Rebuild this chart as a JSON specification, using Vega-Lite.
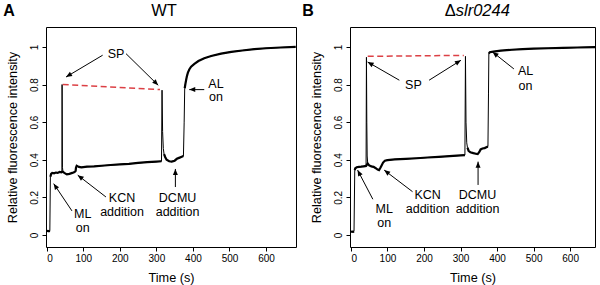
{
  "$schema": "https://vega.github.io/schema/vega-lite/v6.json",
  "background": "white",
  "padding": {"left": 2, "top": 2, "right": 2, "bottom": 2},
  "bounds": "flush",
  "spacing": 54,
  "config": {
    "font": "Liberation Sans",
    "view": {"stroke": "black", "strokeWidth": 1},
    "axis": {
      "grid": false, "domain": false, "tickColor": "black", "tickSize": 4, "tickWidth": 1,
      "labelColor": "black", "labelFontSize": 10, "labelFont": "Liberation Sans",
      "titleColor": "black", "titleFontSize": 12.7, "titleFontWeight": "normal", "titleFont": "Liberation Sans"
    }
  },
  "datasets": {
    "traceA": [
      {"t": 0, "v": 0.02, "seg": 1}, {"t": 3, "v": 0.022, "seg": 1}, {"t": 6, "v": 0.02, "seg": 1}, {"t": 8.5, "v": 0.022, "seg": 1},
      {"t": 10, "v": 0.31, "seg": 2}, {"t": 12, "v": 0.325, "seg": 2}, {"t": 15, "v": 0.33, "seg": 2}, {"t": 20, "v": 0.328, "seg": 2}, {"t": 25, "v": 0.332, "seg": 2}, {"t": 30, "v": 0.33, "seg": 2}, {"t": 35, "v": 0.335, "seg": 2}, {"t": 40, "v": 0.333, "seg": 2}, {"t": 41.5, "v": 0.335, "seg": 2},
      {"t": 42, "v": 0.8, "seg": 0}, {"t": 43, "v": 0.36, "seg": 0},
      {"t": 44.5, "v": 0.335, "seg": 2}, {"t": 48, "v": 0.33, "seg": 2}, {"t": 55, "v": 0.322, "seg": 2}, {"t": 62, "v": 0.325, "seg": 2}, {"t": 70, "v": 0.33, "seg": 2}, {"t": 76, "v": 0.335, "seg": 2}, {"t": 79, "v": 0.34, "seg": 2},
      {"t": 80, "v": 0.358, "seg": 2}, {"t": 82, "v": 0.368, "seg": 2}, {"t": 84, "v": 0.366, "seg": 2}, {"t": 88, "v": 0.362, "seg": 2}, {"t": 95, "v": 0.36, "seg": 2}, {"t": 110, "v": 0.363, "seg": 2}, {"t": 130, "v": 0.365, "seg": 2}, {"t": 150, "v": 0.368, "seg": 2}, {"t": 175, "v": 0.372, "seg": 2}, {"t": 200, "v": 0.375, "seg": 2}, {"t": 225, "v": 0.378, "seg": 2}, {"t": 250, "v": 0.383, "seg": 2}, {"t": 275, "v": 0.387, "seg": 2}, {"t": 300, "v": 0.39, "seg": 2}, {"t": 314, "v": 0.392, "seg": 2},
      {"t": 315.5, "v": 0.77, "seg": 0}, {"t": 317, "v": 0.55, "seg": 0}, {"t": 319, "v": 0.46, "seg": 0},
      {"t": 321, "v": 0.43, "seg": 3}, {"t": 324, "v": 0.415, "seg": 3}, {"t": 328, "v": 0.4, "seg": 3}, {"t": 335, "v": 0.392, "seg": 3}, {"t": 342, "v": 0.39, "seg": 3}, {"t": 350, "v": 0.395, "seg": 3}, {"t": 356, "v": 0.405, "seg": 3}, {"t": 362, "v": 0.41, "seg": 3}, {"t": 368, "v": 0.415, "seg": 3}, {"t": 374, "v": 0.42, "seg": 3},
      {"t": 376, "v": 0.6, "seg": 0},
      {"t": 377.5, "v": 0.78, "seg": 4}, {"t": 380, "v": 0.81, "seg": 4}, {"t": 383, "v": 0.84, "seg": 4}, {"t": 386, "v": 0.862, "seg": 4}, {"t": 390, "v": 0.88, "seg": 4}, {"t": 395, "v": 0.895, "seg": 4}, {"t": 404, "v": 0.91, "seg": 4}, {"t": 415, "v": 0.925, "seg": 4}, {"t": 431, "v": 0.94, "seg": 4}, {"t": 450, "v": 0.952, "seg": 4}, {"t": 477, "v": 0.964, "seg": 4}, {"t": 505, "v": 0.974, "seg": 4}, {"t": 535, "v": 0.981, "seg": 4}, {"t": 568, "v": 0.988, "seg": 4}, {"t": 600, "v": 0.993, "seg": 4}, {"t": 640, "v": 0.997, "seg": 4}, {"t": 681, "v": 1.0, "seg": 4}
    ],
    "traceB": [
      {"t": 0, "v": 0.017, "seg": 1}, {"t": 3, "v": 0.018, "seg": 1}, {"t": 6, "v": 0.017, "seg": 1}, {"t": 8.5, "v": 0.02, "seg": 1},
      {"t": 10.5, "v": 0.345, "seg": 2}, {"t": 12, "v": 0.355, "seg": 2}, {"t": 16, "v": 0.36, "seg": 2}, {"t": 22, "v": 0.362, "seg": 2}, {"t": 28, "v": 0.363, "seg": 2}, {"t": 35, "v": 0.365, "seg": 2}, {"t": 41.5, "v": 0.367, "seg": 2},
      {"t": 42.5, "v": 0.945, "seg": 0}, {"t": 43.5, "v": 0.6, "seg": 0}, {"t": 44.5, "v": 0.42, "seg": 0},
      {"t": 46, "v": 0.38, "seg": 2}, {"t": 50, "v": 0.37, "seg": 2}, {"t": 56, "v": 0.365, "seg": 2}, {"t": 62, "v": 0.362, "seg": 2}, {"t": 68, "v": 0.355, "seg": 2}, {"t": 73, "v": 0.348, "seg": 2}, {"t": 77, "v": 0.345, "seg": 2}, {"t": 80, "v": 0.355, "seg": 2}, {"t": 84, "v": 0.37, "seg": 2}, {"t": 88, "v": 0.385, "seg": 2}, {"t": 93, "v": 0.395, "seg": 2}, {"t": 100, "v": 0.398, "seg": 2}, {"t": 120, "v": 0.402, "seg": 2}, {"t": 150, "v": 0.405, "seg": 2}, {"t": 180, "v": 0.408, "seg": 2}, {"t": 210, "v": 0.412, "seg": 2}, {"t": 240, "v": 0.415, "seg": 2}, {"t": 270, "v": 0.419, "seg": 2}, {"t": 300, "v": 0.423, "seg": 2}, {"t": 312, "v": 0.425, "seg": 2},
      {"t": 313.5, "v": 0.95, "seg": 0}, {"t": 315, "v": 0.6, "seg": 0}, {"t": 317, "v": 0.49, "seg": 0},
      {"t": 319, "v": 0.465, "seg": 3}, {"t": 322, "v": 0.448, "seg": 3}, {"t": 327, "v": 0.44, "seg": 3}, {"t": 335, "v": 0.435, "seg": 3}, {"t": 342, "v": 0.432, "seg": 3}, {"t": 347, "v": 0.43, "seg": 3}, {"t": 351, "v": 0.44, "seg": 3}, {"t": 355, "v": 0.455, "seg": 3}, {"t": 360, "v": 0.46, "seg": 3}, {"t": 366, "v": 0.462, "seg": 3}, {"t": 372, "v": 0.468, "seg": 3}, {"t": 375, "v": 0.47, "seg": 3},
      {"t": 376.5, "v": 0.75, "seg": 0},
      {"t": 377.5, "v": 0.965, "seg": 4}, {"t": 380, "v": 0.972, "seg": 4}, {"t": 390, "v": 0.975, "seg": 4}, {"t": 410, "v": 0.98, "seg": 4}, {"t": 440, "v": 0.985, "seg": 4}, {"t": 470, "v": 0.988, "seg": 4}, {"t": 500, "v": 0.991, "seg": 4}, {"t": 540, "v": 0.993, "seg": 4}, {"t": 580, "v": 0.995, "seg": 4}, {"t": 620, "v": 0.997, "seg": 4}, {"t": 668, "v": 0.999, "seg": 4}
    ],
    "spA": [{"t": 43.7, "v": 0.8}, {"t": 310, "v": 0.773}],
    "spB": [{"t": 46, "v": 0.95}, {"t": 309, "v": 0.955}],
    "arrowsA": [
      {"t": 153, "v": 0.956, "t2": 52.8, "v2": 0.84},
      {"t": 217, "v": 0.964, "t2": 305, "v2": 0.796},
      {"t": 431, "v": 0.773, "t2": 390, "v2": 0.773},
      {"t": 69, "v": 0.128, "t2": 19, "v2": 0.273},
      {"t": 162, "v": 0.202, "t2": 84.8, "v2": 0.318},
      {"t": 352, "v": 0.255, "t2": 352, "v2": 0.351}
    ],
    "arrowsB": [
      {"t": 132.5, "v": 0.823, "t2": 45.7, "v2": 0.92},
      {"t": 214, "v": 0.823, "t2": 301, "v2": 0.929},
      {"t": 446, "v": 0.883, "t2": 387.7, "v2": 0.973},
      {"t": 60, "v": 0.19, "t2": 18.3, "v2": 0.345},
      {"t": 168.7, "v": 0.23, "t2": 91, "v2": 0.345},
      {"t": 348, "v": 0.266, "t2": 348, "v2": 0.39}
    ],
    "notesA": [
      {"t": 189.7, "v": 0.964, "label": "SP"},
      {"t": 463, "v": 0.805, "label": "AL"}, {"t": 463, "v": 0.734, "label": "on"},
      {"t": 98.5, "v": 0.112, "label": "ML"}, {"t": 98.5, "v": 0.037, "label": "on"},
      {"t": 206, "v": 0.197, "label": "KCN"}, {"t": 206, "v": 0.122, "label": "addition"},
      {"t": 358, "v": 0.197, "label": "DCMU"}, {"t": 358, "v": 0.122, "label": "addition"}
    ],
    "notesB": [
      {"t": 171, "v": 0.8, "label": "SP"},
      {"t": 478, "v": 0.871, "label": "AL"}, {"t": 478, "v": 0.791, "label": "on"},
      {"t": 91, "v": 0.14, "label": "ML"}, {"t": 91, "v": 0.065, "label": "on"},
      {"t": 210, "v": 0.214, "label": "KCN"}, {"t": 210, "v": 0.14, "label": "addition"},
      {"t": 346.6, "v": 0.214, "label": "DCMU"}, {"t": 346.6, "v": 0.14, "label": "addition"}
    ],
    "headA": [{"t": 321, "v": 1.19, "label": "WT"}],
    "headB1": [{"t": 287, "v": 1.19, "label": "Δ"}],
    "headB2": [{"t": 287, "v": 1.19, "label": "slr0244"}],
    "letterA": [{"t": -103, "v": 1.19, "label": "A"}],
    "letterB": [{"t": -117.6, "v": 1.19, "label": "B"}]
  },
  "hconcat": [
    {
      "width": 250, "height": 220,
      "encoding": {
        "x": {"field": "t", "type": "quantitative", "scale": {"domain": [-2, 682], "nice": false, "zero": false},
              "axis": {"values": [0, 100, 200, 300, 400, 500, 600], "labelPadding": 2, "titlePadding": 8, "title": "Time (s)"}},
        "y": {"field": "v", "type": "quantitative", "scale": {"domain": [-0.064, 1.106], "nice": false, "zero": false},
              "axis": {"values": [0, 0.2, 0.4, 0.6, 0.8, 1], "format": ".1~f", "labelAngle": -90, "labelAlign": "center", "labelBaseline": "bottom", "labelPadding": 3, "titlePadding": 10, "title": "Relative fluorescence intensity"}}
      },
      "layer": [
        {"data": {"name": "traceA"}, "mark": {"type": "line", "color": "black", "strokeWidth": 1}},
        {"data": {"name": "traceA"}, "transform": [{"filter": "datum.seg > 0"}], "mark": {"type": "line", "color": "black", "strokeWidth": 2.2}, "encoding": {"detail": {"field": "seg"}}},
        {"data": {"name": "spA"}, "mark": {"type": "line", "color": "#dc4045", "strokeWidth": 1.5, "strokeDash": [6, 3.5]}},
        {"data": {"name": "arrowsA"}, "mark": {"type": "rule", "color": "black", "strokeWidth": 1}, "encoding": {"x2": {"field": "t2"}, "y2": {"field": "v2"}}},
        {"data": {"name": "arrowsA"}, "transform": [{"calculate": "atan2((datum.t2 - datum.t) * 0.3655, (datum.v2 - datum.v) * 188) * 180 / PI", "as": "ang"}],
         "mark": {"type": "point", "shape": "M0,0L-1,2.4L1,2.4Z", "filled": true, "color": "black", "size": 25, "opacity": 1},
         "encoding": {"x": {"field": "t2", "type": "quantitative"}, "y": {"field": "v2", "type": "quantitative"}, "angle": {"field": "ang", "type": "quantitative", "scale": null}}},
        {"data": {"name": "notesA"}, "mark": {"type": "text", "fontSize": 12.5, "color": "black", "align": "center", "baseline": "middle"}, "encoding": {"text": {"field": "label"}}},
        {"data": {"name": "headA"}, "mark": {"type": "text", "fontSize": 16.5, "color": "black", "align": "center", "baseline": "middle"}, "encoding": {"text": {"field": "label"}}},
        {"data": {"name": "letterA"}, "mark": {"type": "text", "fontSize": 16, "fontWeight": "bold", "color": "black", "align": "center", "baseline": "middle"}, "encoding": {"text": {"field": "label"}}}
      ]
    },
    {
      "width": 245, "height": 220,
      "encoding": {
        "x": {"field": "t", "type": "quantitative", "scale": {"domain": [-2.5, 668], "nice": false, "zero": false},
              "axis": {"values": [0, 100, 200, 300, 400, 500, 600], "labelPadding": 2, "titlePadding": 8, "title": "Time (s)"}},
        "y": {"field": "v", "type": "quantitative", "scale": {"domain": [-0.064, 1.106], "nice": false, "zero": false},
              "axis": {"values": [0, 0.2, 0.4, 0.6, 0.8, 1], "format": ".1~f", "labelAngle": -90, "labelAlign": "center", "labelBaseline": "bottom", "labelPadding": 3, "titlePadding": 10, "title": "Relative fluorescence intensity"}}
      },
      "layer": [
        {"data": {"name": "traceB"}, "mark": {"type": "line", "color": "black", "strokeWidth": 1}},
        {"data": {"name": "traceB"}, "transform": [{"filter": "datum.seg > 0"}], "mark": {"type": "line", "color": "black", "strokeWidth": 2.2}, "encoding": {"detail": {"field": "seg"}}},
        {"data": {"name": "spB"}, "mark": {"type": "line", "color": "#dc4045", "strokeWidth": 1.5, "strokeDash": [6, 3.5]}},
        {"data": {"name": "arrowsB"}, "mark": {"type": "rule", "color": "black", "strokeWidth": 1}, "encoding": {"x2": {"field": "t2"}, "y2": {"field": "v2"}}},
        {"data": {"name": "arrowsB"}, "transform": [{"calculate": "atan2((datum.t2 - datum.t) * 0.3655, (datum.v2 - datum.v) * 188) * 180 / PI", "as": "ang"}],
         "mark": {"type": "point", "shape": "M0,0L-1,2.4L1,2.4Z", "filled": true, "color": "black", "size": 25, "opacity": 1},
         "encoding": {"x": {"field": "t2", "type": "quantitative"}, "y": {"field": "v2", "type": "quantitative"}, "angle": {"field": "ang", "type": "quantitative", "scale": null}}},
        {"data": {"name": "notesB"}, "mark": {"type": "text", "fontSize": 12.5, "color": "black", "align": "center", "baseline": "middle"}, "encoding": {"text": {"field": "label"}}},
        {"data": {"name": "headB1"}, "mark": {"type": "text", "fontSize": 16.5, "color": "black", "align": "right", "baseline": "middle"}, "encoding": {"text": {"field": "label"}}},
        {"data": {"name": "headB2"}, "mark": {"type": "text", "fontSize": 16.5, "fontStyle": "italic", "color": "black", "align": "left", "baseline": "middle"}, "encoding": {"text": {"field": "label"}}},
        {"data": {"name": "letterB"}, "mark": {"type": "text", "fontSize": 16, "fontWeight": "bold", "color": "black", "align": "center", "baseline": "middle"}, "encoding": {"text": {"field": "label"}}}
      ]
    }
  ]
}
